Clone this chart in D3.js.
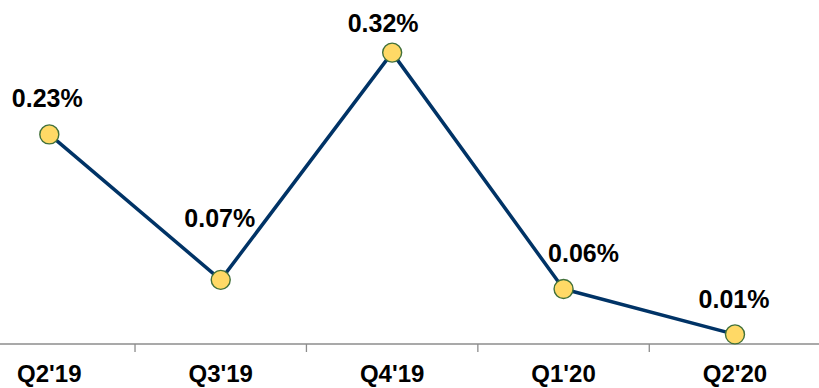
<!DOCTYPE html>
<html>
<head>
<meta charset="utf-8">
<script src="https://cdn.jsdelivr.net/npm/d3@7"></script>
<style>
  html, body { margin: 0; padding: 0; background: #ffffff; }
  svg { display: block; }
  text { font-family: "Liberation Sans", Arial, sans-serif; font-weight: bold; fill: #000; }
</style>
</head>
<body>
<svg id="chart" width="819" height="388"></svg>
<script>
// Quarterly rate series
const quarters = ["Q2'19", "Q3'19", "Q4'19", "Q1'20", "Q2'20"];
const rates = [0.23, 0.07, 0.32, 0.06, 0.01];
const rateLabels = ["0.23%", "0.07%", "0.32%", "0.06%", "0.01%"];

// Hand-placed label nudges (dx, dy from the marker centre)
const labelNudge = [[-2, -27], [-1, -53], [-9, -21], [20, -27], [-1, -26]];

const svg = d3.select("#chart");
const W = 819, H = 388;

const x = d3.scaleBand().domain(quarters).range([-36.4, 820.7]);
const y = d3.scaleLinear().domain([0, 0.32]).range([343.5, 52.6]);
const cx = d => x(d) + x.bandwidth() / 2;

// Category axis along the baseline
const axisY = 344;
const axis = d3.axisBottom(x).tickSize(0).tickFormat("");
const gAxis = svg.append("g").attr("transform", `translate(0,${axisY})`).call(axis);
gAxis.select(".domain").remove();
svg.append("line")
  .attr("x1", 0).attr("x2", W).attr("y1", axisY).attr("y2", axisY)
  .attr("stroke", "#8c8c8c").attr("stroke-width", 1.3);

// Separators between categories
svg.append("g").selectAll("line")
  .data(quarters.slice(1))
  .join("line")
  .attr("x1", d => x(d)).attr("x2", d => x(d))
  .attr("y1", axisY).attr("y2", axisY + 8)
  .attr("stroke", "#8c8c8c").attr("stroke-width", 1.3);

svg.append("g").selectAll("text")
  .data(quarters)
  .join("text")
  .attr("x", d => cx(d))
  .attr("y", 382)
  .attr("text-anchor", "middle")
  .attr("font-size", 24)
  .text(d => d);

// Line
const line = d3.line().x((d, i) => cx(quarters[i])).y(d => y(d));
svg.append("path")
  .datum(rates)
  .attr("d", line)
  .attr("fill", "none")
  .attr("stroke", "#003366")
  .attr("stroke-width", 3.5)
  .attr("stroke-linejoin", "round");

// Markers
svg.append("g").selectAll("circle")
  .data(rates)
  .join("circle")
  .attr("cx", (d, i) => cx(quarters[i]))
  .attr("cy", d => y(d))
  .attr("r", 9.5)
  .attr("fill", "#FFD966")
  .attr("stroke", "#41703A")
  .attr("stroke-width", 1.4);

// Value labels
svg.append("g").selectAll("text")
  .data(rates)
  .join("text")
  .attr("x", (d, i) => cx(quarters[i]) + labelNudge[i][0])
  .attr("y", (d, i) => y(d) + labelNudge[i][1])
  .attr("text-anchor", "middle")
  .attr("font-size", 25)
  .text((d, i) => rateLabels[i]);
</script>
</body>
</html>
